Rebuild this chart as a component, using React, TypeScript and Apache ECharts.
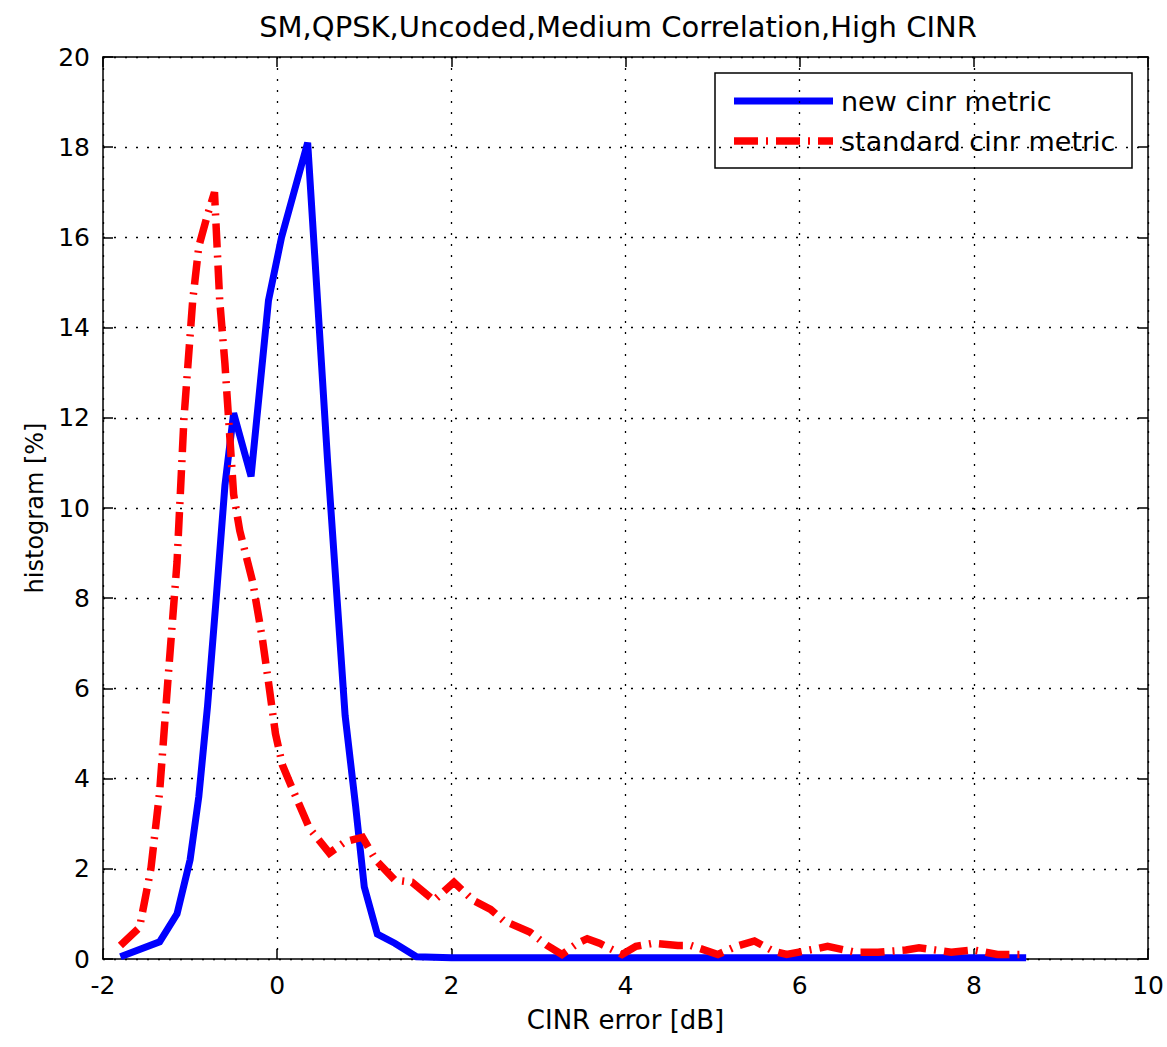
import React, { useEffect, useRef } from "react";
import * as echarts from "echarts";

const titleText = "SM,QPSK,Uncoded,Medium Correlation,High CINR";
const xAxisName = "CINR error [dB]";
const yAxisName = "histogram [%]";
const seriesNames = ["new cinr metric", "standard cinr metric"];

const blueX = [-1.8, -1.35, -1.15, -1.0, -0.9, -0.8, -0.7, -0.6, -0.5, -0.3, -0.1, 0.05, 0.35, 0.58, 0.78, 0.9, 1.0, 1.15, 1.35, 1.6, 2.0, 3.0, 4.0, 5.0, 6.0, 7.0, 8.0, 8.6];
const blueY = [0.05, 0.38, 1.0, 2.2, 3.6, 5.6, 8.0, 10.5, 12.1, 10.7, 14.6, 16.0, 18.1, 11.0, 5.4, 3.4, 1.6, 0.55, 0.35, 0.05, 0.03, 0.03, 0.03, 0.03, 0.03, 0.03, 0.03, 0.03];

const redX = [-1.8, -1.58, -1.45, -1.35, -1.25, -1.15, -1.07, -0.97, -0.9, -0.8, -0.72, -0.66, -0.6, -0.5, -0.43, -0.28, -0.17, -0.09, -0.02, 0.06, 0.18, 0.37, 0.6, 0.78, 0.98, 1.13, 1.35, 1.55, 1.8, 2.03, 2.25, 2.45, 2.6, 2.9, 3.1, 3.27, 3.45, 3.56, 3.7, 3.96, 4.12, 4.32, 4.6, 4.75, 5.06, 5.27, 5.48, 5.69, 5.85, 6.17, 6.32, 6.64, 6.9, 7.22, 7.37, 7.74, 8.0, 8.27, 8.58];
const redY = [0.3, 0.7, 2.0, 3.7, 6.3, 8.8, 12.0, 14.6, 15.8, 16.5, 17.0, 14.6, 13.2, 10.3, 9.5, 8.35, 7.1, 6.0, 5.0, 4.3, 3.75, 2.9, 2.35, 2.6, 2.7, 2.2, 1.75, 1.7, 1.3, 1.7, 1.3, 1.1, 0.85, 0.6, 0.3, 0.1, 0.35, 0.45, 0.35, 0.1, 0.28, 0.35, 0.3, 0.3, 0.1, 0.28, 0.4, 0.18, 0.1, 0.22, 0.28, 0.15, 0.15, 0.2, 0.25, 0.15, 0.2, 0.1, 0.1];

const xMin = -2, xMax = 10, xStep = 2;
const yMin = 0, yMax = 20, yStep = 2;

const FONT = "'DejaVu Sans', Verdana, sans-serif";
const BLUE = "#0000ff";
const RED = "#ff0000";
const RED_DASH = [24, 8, 2, 8];

export default function App() {
  const ref = useRef<HTMLDivElement>(null);
  useEffect(() => {
    if (!ref.current) return;
    const chart = echarts.init(ref.current, null, { renderer: "svg" });
    const gridLine = { show: true, lineStyle: { color: "#000", width: 1.3, type: [2, 9] } };
    const axisLine = { show: true, onZero: false, lineStyle: { color: "#000", width: 1.5 } };
    const tick = { show: true, inside: true, length: 10, lineStyle: { color: "#000", width: 1.5 } };
    const option: any = {
      animation: false,
      backgroundColor: "#fff",
      grid: { left: 103, right: 16, top: 57, bottom: 88, containLabel: false },
      xAxis: [
        {
          type: "value", min: xMin, max: xMax, interval: xStep,
          name: xAxisName, nameLocation: "middle", nameGap: 48,
          nameTextStyle: { fontFamily: FONT, fontSize: 26, color: "#000" },
          axisLine, axisTick: tick, splitLine: gridLine,
          axisLabel: { fontFamily: FONT, fontSize: 25, color: "#000", margin: 14 },
        },
        {
          type: "value", position: "top", min: xMin, max: xMax, interval: xStep,
          axisLine, axisTick: tick, splitLine: { show: false }, axisLabel: { show: false },
        },
      ],
      yAxis: [
        {
          type: "value", min: yMin, max: yMax, interval: yStep,
          name: yAxisName, nameLocation: "middle", nameGap: 56, nameRotate: 90,
          nameTextStyle: { fontFamily: FONT, fontSize: 24, color: "#000" },
          axisLine, axisTick: tick, splitLine: gridLine,
          axisLabel: { fontFamily: FONT, fontSize: 25, color: "#000", margin: 13 },
        },
        {
          type: "value", position: "right", min: yMin, max: yMax, interval: yStep,
          axisLine, axisTick: tick, splitLine: { show: false }, axisLabel: { show: false },
        },
      ],
      series: [
        {
          name: seriesNames[0], type: "line", showSymbol: false, symbol: "none",
          data: blueX.map((x, i) => [x, blueY[i]]),
          lineStyle: { color: BLUE, width: 7, cap: "butt", join: "miter" },
          z: 3,
        },
        {
          name: seriesNames[1], type: "line", showSymbol: false, symbol: "none",
          data: redX.map((x, i) => [x, redY[i]]),
          lineStyle: { color: RED, width: 7.5, type: RED_DASH, cap: "butt", join: "miter" },
          z: 4,
        },
      ],
      graphic: [
        {
          type: "text",
          style: { text: titleText, x: 618, y: 27, textAlign: "center", textVerticalAlign: "middle", font: `29px ${FONT}`, fill: "#000" },
        },
        {
          type: "group", x: 715, y: 73, z: 100,
          children: [
            { type: "rect", shape: { x: 0, y: 0, width: 417, height: 95 }, style: { fill: "#fff", stroke: "#000", lineWidth: 1.5 } },
            { type: "line", shape: { x1: 19, y1: 28, x2: 118, y2: 28 }, style: { stroke: BLUE, lineWidth: 7 } },
            { type: "line", shape: { x1: 19, y1: 68, x2: 118, y2: 68 }, style: { stroke: RED, lineWidth: 7.5, lineDash: RED_DASH } },
            { type: "text", style: { text: seriesNames[0], x: 126, y: 28, textVerticalAlign: "middle", font: `27px ${FONT}`, fill: "#000" } },
            { type: "text", style: { text: seriesNames[1], x: 126, y: 68, textVerticalAlign: "middle", font: `27px ${FONT}`, fill: "#000" } },
          ],
        },
      ],
    };
    chart.setOption(option);
    return () => chart.dispose();
  }, []);
  return (
    <div
      ref={ref}
      style={{ position: "fixed", left: 0, top: 0, width: 1167, height: 1047, background: "#fff" }}
    />
  );
}
